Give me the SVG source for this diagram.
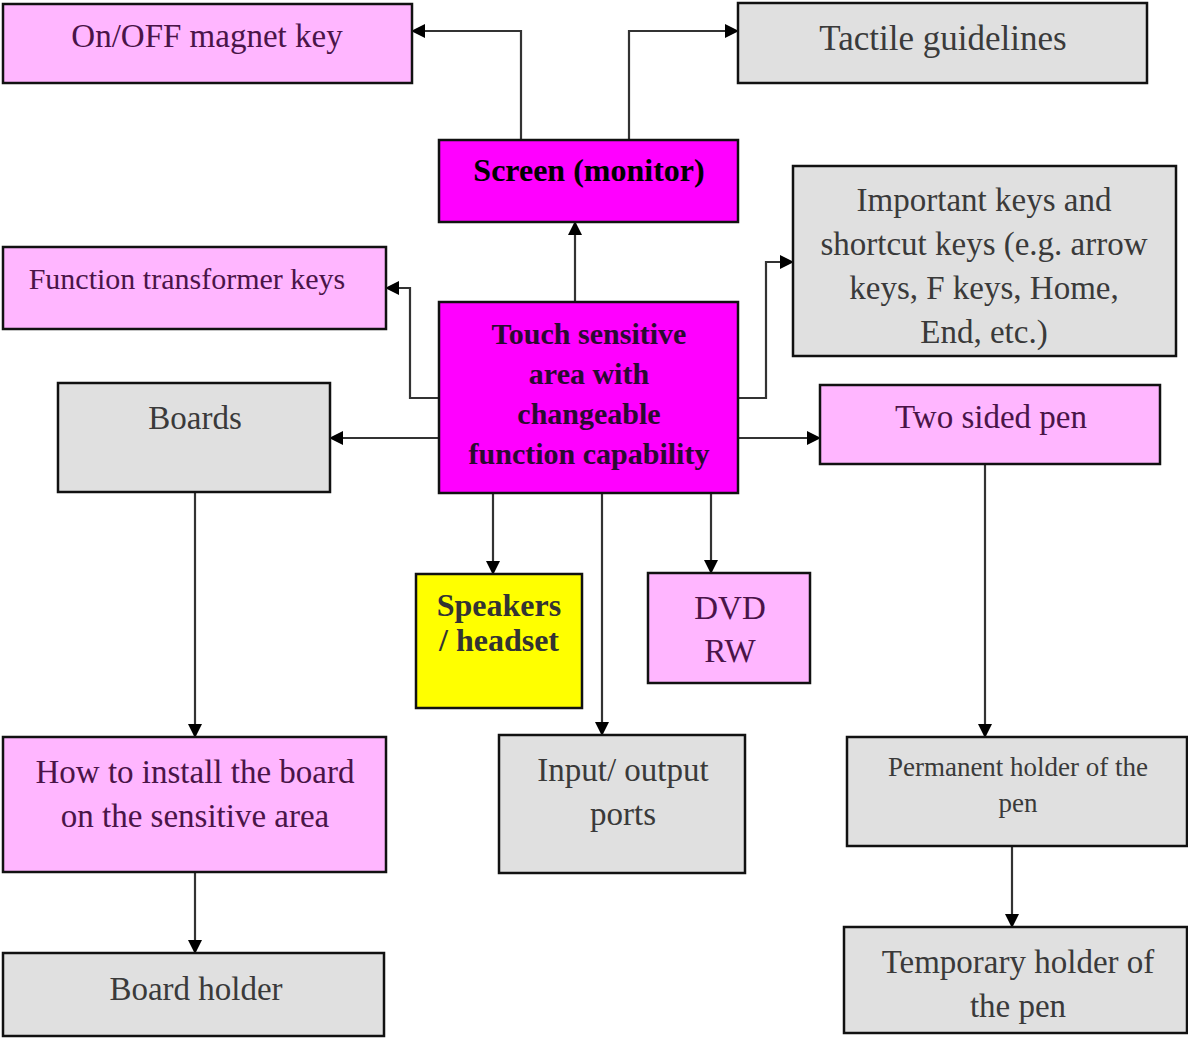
<svg xmlns="http://www.w3.org/2000/svg" width="1188" height="1038" viewBox="0 0 1188 1038">
<style>
.box{stroke:#111;stroke-width:2.5}
.pink{fill:#ffb6ff}
.gray{fill:#e0e0e0}
.mag{fill:#ff00ff}
.yel{fill:#ffff00}
text{font-family:'Liberation Serif','DejaVu Serif',serif;text-anchor:middle}
.tp{fill:#4a1448;font-size:33px}
.tg{fill:#3a3a3a;font-size:33px}
.tb{fill:#2a0a30;font-size:30px;font-weight:bold}
.ty{fill:#333;font-size:32px;font-weight:bold}
.conn{fill:none;stroke:#333;stroke-width:2.2}
</style>
<defs>
<marker id="ah" markerWidth="14" markerHeight="14" refX="13" refY="7" orient="auto" markerUnits="userSpaceOnUse">
<path d="M0,0 L14,7 L0,14 Z" fill="#000"/>
</marker>
</defs>
<rect width="1188" height="1038" fill="#fff"/>
<g id="connectors">
<path class="conn" d="M521,140 V31 H412" marker-end="url(#ah)"/>
<path class="conn" d="M629,140 V31 H738" marker-end="url(#ah)"/>
<path class="conn" d="M575,302 V222" marker-end="url(#ah)"/>
<path class="conn" d="M439,398 H410 V288 H386" marker-end="url(#ah)"/>
<path class="conn" d="M738,398 H766 V262 H793" marker-end="url(#ah)"/>
<path class="conn" d="M439,438 H330" marker-end="url(#ah)"/>
<path class="conn" d="M738,438 H820" marker-end="url(#ah)"/>
<path class="conn" d="M493,493 V574" marker-end="url(#ah)"/>
<path class="conn" d="M602,493 V735" marker-end="url(#ah)"/>
<path class="conn" d="M711,493 V573" marker-end="url(#ah)"/>
<path class="conn" d="M195,492 V737" marker-end="url(#ah)"/>
<path class="conn" d="M195,872 V953" marker-end="url(#ah)"/>
<path class="conn" d="M985,464 V737" marker-end="url(#ah)"/>
<path class="conn" d="M1012,846 V927" marker-end="url(#ah)"/>
</g>
<g id="onoff">
<rect class="box pink" x="3" y="4" width="409" height="79"/>
<text class="tp" x="207" y="47">On/OFF magnet key</text>
</g>
<g id="tactile">
<rect class="box gray" x="738" y="3" width="409" height="80"/>
<text class="tg" x="943" y="50" style="font-size:35px">Tactile guidelines</text>
</g>
<g id="screen">
<rect class="box mag" x="439" y="140" width="299" height="82"/>
<text class="tb" x="589" y="181" style="font-size:32px;fill:#000">Screen (monitor)</text>
</g>
<g id="important">
<rect class="box gray" x="793" y="166" width="383" height="190"/>
<text class="tg" x="984" y="211">Important keys and</text>
<text class="tg" x="984" y="255">shortcut keys (e.g. arrow</text>
<text class="tg" x="984" y="299">keys, F keys, Home,</text>
<text class="tg" x="984" y="343">End, etc.)</text>
</g>
<g id="function">
<rect class="box pink" x="3" y="247" width="383" height="82"/>
<text class="tp" x="187" y="289" style="font-size:30px">Function transformer keys</text>
</g>
<g id="touch">
<rect class="box mag" x="439" y="302" width="299" height="191"/>
<text class="tb" x="589" y="344">Touch sensitive</text>
<text class="tb" x="589" y="384">area with</text>
<text class="tb" x="589" y="424">changeable</text>
<text class="tb" x="589" y="464">function capability</text>
</g>
<g id="boards">
<rect class="box gray" x="58" y="383" width="272" height="109"/>
<text class="tg" x="195" y="429">Boards</text>
</g>
<g id="pen">
<rect class="box pink" x="820" y="385" width="340" height="79"/>
<text class="tp" x="991" y="428">Two sided pen</text>
</g>
<g id="speakers">
<rect class="box yel" x="416" y="574" width="166" height="134"/>
<text class="ty" x="499" y="616">Speakers</text>
<text class="ty" x="499" y="651">/ headset</text>
</g>
<g id="dvd">
<rect class="box pink" x="648" y="573" width="162" height="110"/>
<text class="tp" x="730" y="619">DVD</text>
<text class="tp" x="730" y="662">RW</text>
</g>
<g id="io">
<rect class="box gray" x="499" y="735" width="246" height="138"/>
<text class="tg" x="623" y="781">Input/ output</text>
<text class="tg" x="623" y="825">ports</text>
</g>
<g id="install">
<rect class="box pink" x="3" y="737" width="383" height="135"/>
<text class="tp" x="195" y="783">How to install the board</text>
<text class="tp" x="195" y="827">on the sensitive area</text>
</g>
<g id="boardholder">
<rect class="box gray" x="3" y="953" width="381" height="83"/>
<text class="tg" x="196" y="1000">Board holder</text>
</g>
<g id="permanent">
<rect class="box gray" x="847" y="737" width="340" height="109"/>
<text class="tg" x="1018" y="776" style="font-size:27px">Permanent holder of the</text>
<text class="tg" x="1018" y="812" style="font-size:27px">pen</text>
</g>
<g id="temporary">
<rect class="box gray" x="844" y="927" width="343" height="106"/>
<text class="tg" x="1018" y="973">Temporary holder of</text>
<text class="tg" x="1018" y="1017">the pen</text>
</g>
</svg>
